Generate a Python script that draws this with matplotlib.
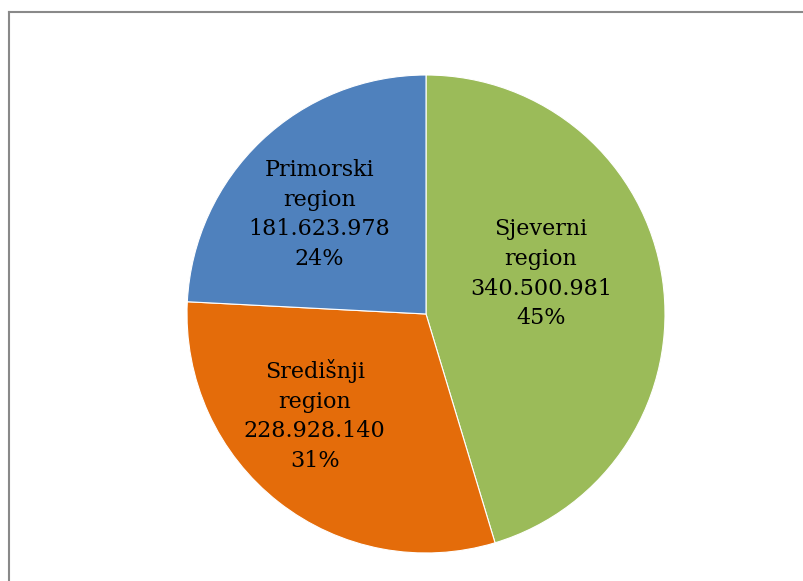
import numpy as np
import matplotlib
matplotlib.use("Agg")
import matplotlib.pyplot as plt
from matplotlib.lines import Line2D

# data
regions = ["Sjeverni\nregion", "Središnji\nregion", "Primorski\nregion"]
values = [340500981, 228928140, 181623978]
percent_labels = ["45%", "31%", "24%"]
colors = ["#9BBB59", "#E46C0A", "#4F81BD"]

# label placement (angle in degrees, distance as fraction of radius)
label_angles = [19.3, -137.7, 137.0]
label_radii = [0.51, 0.63, 0.61]


def fmt_value(v):
    return f"{v:,}".replace(",", ".")


fig = plt.figure(figsize=(8.04, 5.81), dpi=100)
fig.patch.set_facecolor("white")

ax = fig.add_axes([187 / 804, 28 / 581, 478 / 804, 478 / 581])
wedges, _ = ax.pie(values, colors=colors, startangle=90, counterclock=False,
                   wedgeprops=dict(edgecolor="white", linewidth=0.8))
ax.set_xlim(-1, 1)
ax.set_ylim(-1, 1)
ax.set_aspect("equal")
ax.axis("off")

for name, v, pct, ang, r in zip(regions, values, percent_labels, label_angles, label_radii):
    t = np.deg2rad(ang)
    ax.text(r * np.cos(t), r * np.sin(t), f"{name}\n{fmt_value(v)}\n{pct}",
            ha="center", va="center", fontsize=16, family="DejaVu Serif",
            linespacing=1.45, color="black")

# chart frame (only top and left edges visible)
fig.add_artist(Line2D([8.5 / 804, 1.0], [1 - 11.5 / 581, 1 - 11.5 / 581],
                      color="#898989", linewidth=1.5, transform=fig.transFigure))
fig.add_artist(Line2D([8.5 / 804, 8.5 / 804], [0, 1 - 11.5 / 581],
                      color="#898989", linewidth=1.5, transform=fig.transFigure))

fig.savefig("out.png", dpi=100, facecolor="white")
